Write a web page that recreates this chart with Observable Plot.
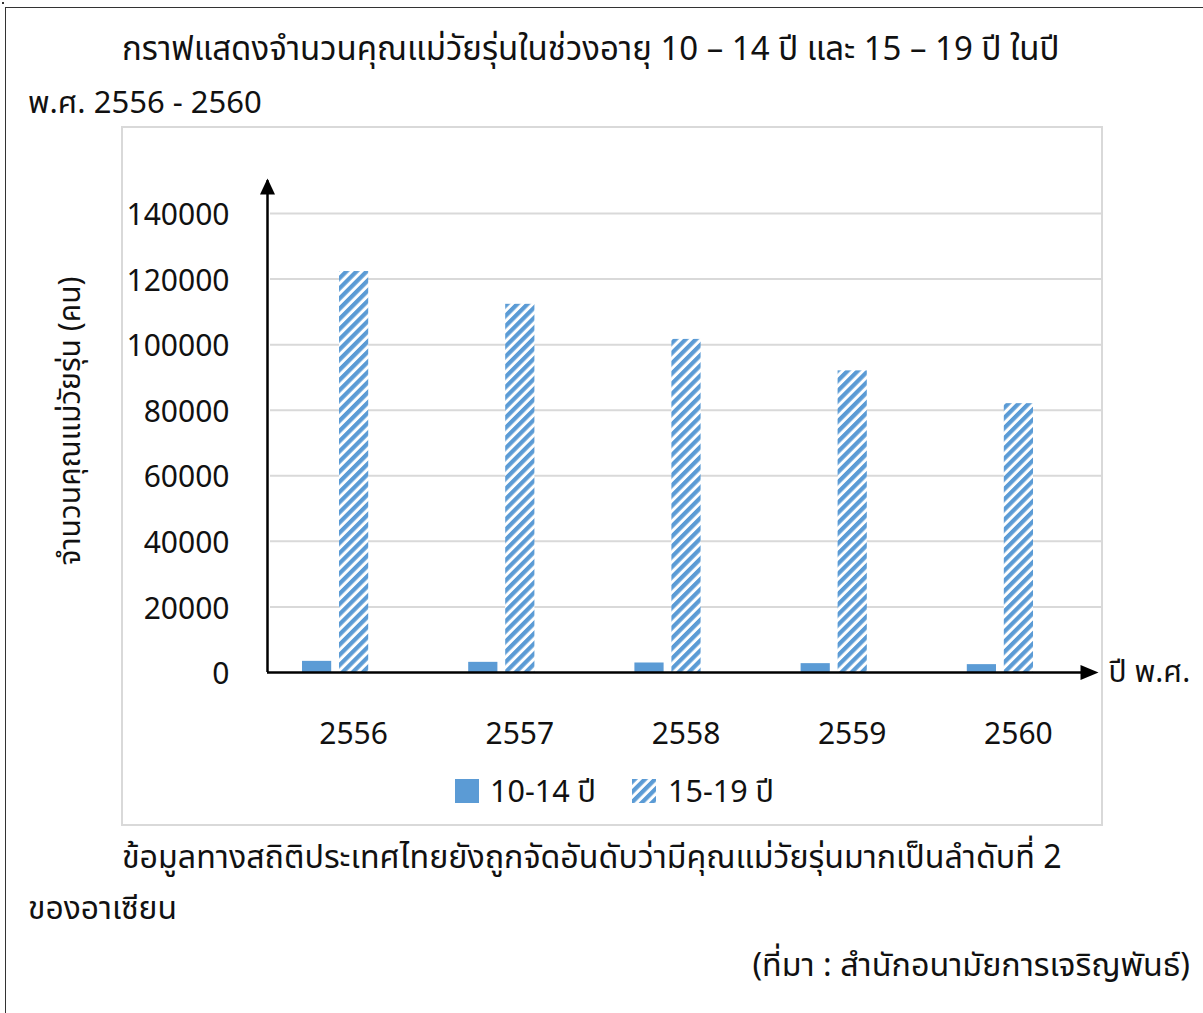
<!DOCTYPE html>
<html><head><meta charset="utf-8">
<script src="https://cdn.jsdelivr.net/npm/d3@7"></script>
<script src="https://cdn.jsdelivr.net/npm/@observablehq/plot@0.6"></script>
<style>
body{margin:0;background:#fff;font-family:"Noto Sans Thai","Noto Sans",sans-serif;color:#111;}
#page{position:relative;width:1203px;height:1013px;overflow:hidden;background:#fff;}
.t{position:absolute;white-space:nowrap;font-size:30px;line-height:40px;}
#outer{position:absolute;left:5px;top:7px;width:1205px;height:1010px;border-left:1.5px solid #333;border-top:1.5px solid #333;}
#dot{position:absolute;left:2px;top:2px;width:2px;height:2px;background:#333;}
#frame{position:absolute;left:121px;top:126px;width:978px;height:696px;border:2px solid #d9d9d9;}
#chart{position:absolute;left:0;top:126px;}
.sw{position:absolute;width:24px;height:24px;}
</style></head>
<body>
<div id="page">
  <div id="outer"></div><div id="dot"></div>
  <div id="frame"></div>
  <div id="title1" class="t" style="left:122px;top:30px;font-size:33px;"></div>
  <div id="title2" class="t" style="left:28px;top:84px;font-size:31px;"></div>
  <div id="chart"></div>
  <svg class="sw" style="left:455px;top:779px;" width="24" height="24"><rect width="24" height="24" fill="#5B9BD5"/></svg>
  <div id="leg1" class="t" style="left:490px;top:773px;font-size:30.5px;"></div>
  <svg class="sw" style="left:632px;top:779px;" width="24" height="24"><rect width="24" height="24" fill="url(#hatch)"/></svg>
  <div id="leg2" class="t" style="left:668px;top:773px;font-size:30.5px;"></div>
  <div id="note1" class="t" style="left:122px;top:838px;font-size:32.2px;"></div>
  <div id="note2" class="t" style="left:28px;top:889px;font-size:31.8px;"></div>
  <div id="source" class="t" style="right:13px;top:947px;font-size:32.3px;"></div>
</div>
<script>
const title1 = "กราฟแสดงจำนวนคุณแม่วัยรุ่นในช่วงอายุ 10 – 14 ปี และ 15 – 19 ปี ในปี";
const title2 = "พ.ศ. 2556 - 2560";
const note1 = "ข้อมูลทางสถิติประเทศไทยยังถูกจัดอันดับว่ามีคุณแม่วัยรุ่นมากเป็นลำดับที่ 2";
const note2 = "ของอาเซียน";
const sourceText = "(ที่มา : สำนักอนามัยการเจริญพันธ์)";
const yLabel = "จำนวนคุณแม่วัยรุ่น (คน)";
const xLabel = "ปี พ.ศ.";
const seriesNames = ["10-14 ปี", "15-19 ปี"];
const years = [2556, 2557, 2558, 2559, 2560];
const teens1014 = [3400, 3100, 2900, 2700, 2400];
const teens1519 = [122300, 112300, 101600, 92000, 82000];
const yTicks = [0, 20000, 40000, 60000, 80000, 100000, 120000, 140000];

document.getElementById("title1").textContent = title1;
document.getElementById("title2").textContent = title2;
document.getElementById("note1").textContent = note1;
document.getElementById("note2").textContent = note2;
document.getElementById("source").textContent = sourceText;
document.getElementById("leg1").textContent = seriesNames[0];
document.getElementById("leg2").textContent = seriesNames[1];

const d1014 = years.map((y, i) => ({year: y, value: teens1014[i]}));
const d1519 = years.map((y, i) => ({year: y, value: teens1519[i]}));
const blue = "#5B9BD5";
const arrowUp = {draw(c){c.moveTo(0,0);c.lineTo(7.5,16);c.lineTo(-7.5,16);c.closePath();}};
const arrowRight = {draw(c){c.moveTo(0,0);c.lineTo(-18,7.5);c.lineTo(-18,-7.5);c.closePath();}};

const plot = Plot.plot({
  width: 1203, height: 700,
  marginTop: 87, marginBottom: 154, marginLeft: 270, marginRight: 102,
  x: {type: "linear", domain: [2555.5, 2560.5], axis: null},
  y: {domain: [0, 140000], axis: null},
  style: {fontFamily: '"Noto Sans Thai","Noto Sans",sans-serif', fontSize: "30px", background: "transparent", overflow: "visible", color: "#111"},
  marks: [
    Plot.ruleY(yTicks.slice(1), {stroke: "#d9d9d9", strokeWidth: 2}),
    Plot.rectY(d1014, {x1: d => d.year - 0.5, x2: d => d.year + 0.5, y1: 0, y2: "value", insetLeft: 32, insetRight: 105, fill: blue}),
    Plot.rectY(d1519, {x1: d => d.year - 0.5, x2: d => d.year + 0.5, y1: 0, y2: "value", insetLeft: 69, insetRight: 68, fill: "url(#hatch)"}),
    Plot.ruleX([2555.5], {y1: 0, y2: 150000, dx: -3, stroke: "#000", strokeWidth: 2.5}),
    Plot.ruleY([0], {x1: 2555.5, x2: 2560.4, dx: -3, stroke: "#000", strokeWidth: 2.5}),
    Plot.dot([0], {x: 2555.5, y: 150700, dx: -3, symbol: arrowUp, fill: "#000", stroke: null, r: 6}),
    Plot.dot([0], {x: 2560.482, y: 0, symbol: arrowRight, fill: "#000", stroke: null, r: 6}),
    Plot.text(yTicks, {y: d => d, text: d => String(d), frameAnchor: "left", dx: -41, dy: 2, textAnchor: "end", fontSize: 30, fill: "#111"}),
    Plot.text(years, {x: d => d, text: d => String(d), frameAnchor: "bottom", dy: 71, fontSize: 30, fill: "#111"}),
    Plot.text([xLabel], {frameAnchor: "bottom-right", dx: 7, dy: 9, textAnchor: "start", fontSize: 30, fill: "#111"}),
    Plot.text([yLabel], {frameAnchor: "left", textAnchor: "middle", rotate: -90, dx: -200, dy: -22, fontSize: 30, fill: "#111"})
  ]
});
const ns = "http://www.w3.org/2000/svg";
const defs = document.createElementNS(ns, "defs");
defs.innerHTML = `<pattern id="hatch" patternUnits="userSpaceOnUse" width="7.2" height="7.2" patternTransform="rotate(45)"><rect width="7.2" height="7.2" fill="#fff"/><rect width="4.2" height="7.2" fill="${blue}"/></pattern>`;
plot.insertBefore(defs, plot.firstChild);
document.getElementById("chart").appendChild(plot);
</script>
</body></html>
